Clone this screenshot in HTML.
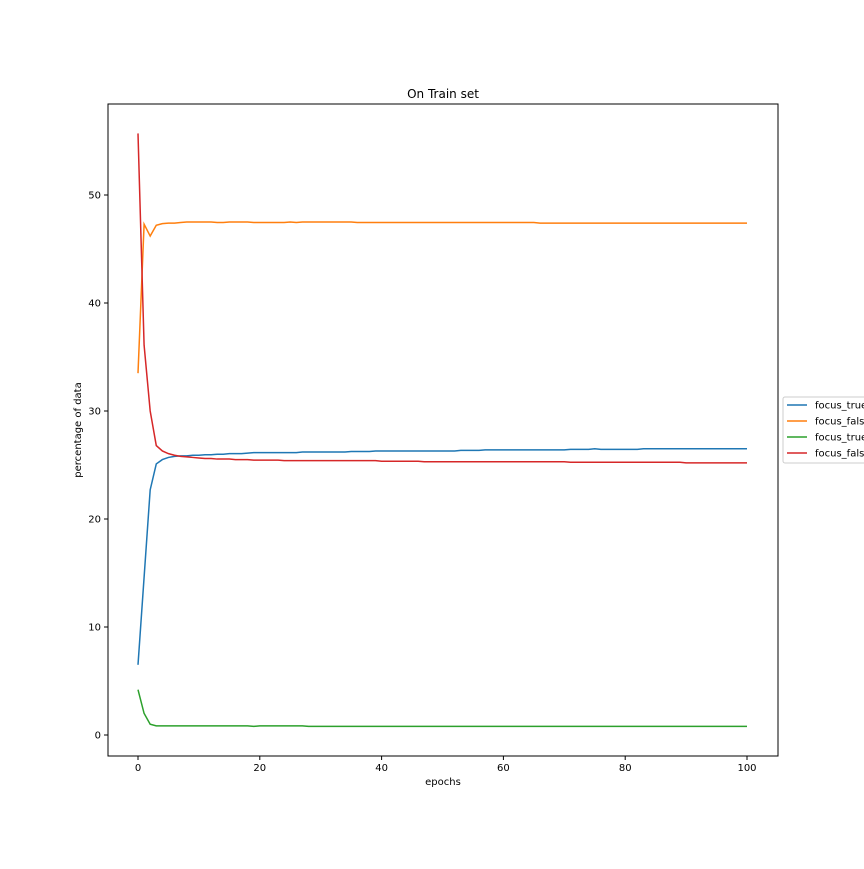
<!DOCTYPE html>
<html><head><meta charset="utf-8"><style>
body{margin:0;background:#fff;font-family:"Liberation Sans","DejaVu Sans",sans-serif;}
svg text{font-family:"DejaVu Sans","Liberation Sans",sans-serif;font-size:10px;fill:#000;}
</style></head><body>
<svg id="chart" width="864" height="864">
<rect width="864" height="864" fill="#fff"/>
<text x="443" y="98" text-anchor="middle" style="font-size:12px">On Train set</text>
<g id="plot"></g>
<rect x="108" y="104" width="670" height="652" fill="none" stroke="#000" stroke-width="1"/>
<text x="443" y="785" text-anchor="middle">epochs</text>
<text transform="translate(81,430) rotate(-90)" text-anchor="middle">percentage of data</text>
<g>
<rect x="783" y="397" width="100" height="66" rx="2" fill="#fff" stroke="#ccc"/>
<g id="legend"></g>
</g>
</svg>
<script>
const xTicks=[0,20,40,60,80,100];
const yTicks=[0,10,20,30,40,50];
const seriesNames=["focus_true_pred_true","focus_false_pred_true","focus_true_pred_false","focus_false_pred_false"];
const colors=["#1f77b4","#ff7f0e","#2ca02c","#d62728"];
const blue=[6.5,14.6,22.7,25.1,25.5,25.7,25.8,25.85,25.85,25.9,25.9,25.95,25.95,26,26,26.05,26.05,26.05,26.1,26.15,26.15,26.15,26.15,26.15,26.15,26.15,26.15,26.2,26.2,26.2,26.2,26.2,26.2,26.2,26.2,26.25,26.25,26.25,26.25,26.3,26.3,26.3,26.3,26.3,26.3,26.3,26.3,26.3,26.3,26.3,26.3,26.3,26.3,26.35,26.35,26.35,26.35,26.4,26.4,26.4,26.4,26.4,26.4,26.4,26.4,26.4,26.4,26.4,26.4,26.4,26.4,26.45,26.45,26.45,26.45,26.5,26.45,26.45,26.45,26.45,26.45,26.45,26.45,26.5,26.5,26.5,26.5,26.5,26.5,26.5,26.5,26.5,26.5,26.5,26.5,26.5,26.5,26.5,26.5,26.5,26.5];
const orange=[33.5,47.3,46.2,47.2,47.35,47.4,47.4,47.45,47.5,47.5,47.5,47.5,47.5,47.45,47.45,47.5,47.5,47.5,47.5,47.45,47.45,47.45,47.45,47.45,47.45,47.5,47.45,47.5,47.5,47.5,47.5,47.5,47.5,47.5,47.5,47.5,47.45,47.45,47.45,47.45,47.45,47.45,47.45,47.45,47.45,47.45,47.45,47.45,47.45,47.45,47.45,47.45,47.45,47.45,47.45,47.45,47.45,47.45,47.45,47.45,47.45,47.45,47.45,47.45,47.45,47.45,47.4,47.4,47.4,47.4,47.4,47.4,47.4,47.4,47.4,47.4,47.4,47.4,47.4,47.4,47.4,47.4,47.4,47.4,47.4,47.4,47.4,47.4,47.4,47.4,47.4,47.4,47.4,47.4,47.4,47.4,47.4,47.4,47.4,47.4,47.4];
const green=[4.2,2.0,1.0,0.85,0.85,0.85,0.85,0.85,0.85,0.85,0.85,0.85,0.85,0.85,0.85,0.85,0.85,0.85,0.85,0.8,0.85,0.85,0.85,0.85,0.85,0.85,0.85,0.85,0.8,0.8,0.8,0.8,0.8,0.8,0.8,0.8,0.8,0.8,0.8,0.8,0.8,0.8,0.8,0.8,0.8,0.8,0.8,0.8,0.8,0.8,0.8,0.8,0.8,0.8,0.8,0.8,0.8,0.8,0.8,0.8,0.8,0.8,0.8,0.8,0.8,0.8,0.8,0.8,0.8,0.8,0.8,0.8,0.8,0.8,0.8,0.8,0.8,0.8,0.8,0.8,0.8,0.8,0.8,0.8,0.8,0.8,0.8,0.8,0.8,0.8,0.8,0.8,0.8,0.8,0.8,0.8,0.8,0.8,0.8,0.8,0.8];
const red=[55.7,36.1,30.0,26.8,26.3,26.05,25.9,25.8,25.75,25.7,25.65,25.6,25.6,25.55,25.55,25.55,25.5,25.5,25.5,25.45,25.45,25.45,25.45,25.45,25.4,25.4,25.4,25.4,25.4,25.4,25.4,25.4,25.4,25.4,25.4,25.4,25.4,25.4,25.4,25.4,25.35,25.35,25.35,25.35,25.35,25.35,25.35,25.3,25.3,25.3,25.3,25.3,25.3,25.3,25.3,25.3,25.3,25.3,25.3,25.3,25.3,25.3,25.3,25.3,25.3,25.3,25.3,25.3,25.3,25.3,25.3,25.25,25.25,25.25,25.25,25.25,25.25,25.25,25.25,25.25,25.25,25.25,25.25,25.25,25.25,25.25,25.25,25.25,25.25,25.25,25.2,25.2,25.2,25.2,25.2,25.2,25.2,25.2,25.2,25.2,25.2];
const series=[blue,orange,green,red];
const NS="http://www.w3.org/2000/svg";
function xs(v){return 138+v*(747-138)/100;}
function ys(v){return 735-v*(735-195)/50;}
const plot=document.getElementById('plot');
xTicks.forEach(t=>{
 const l=document.createElementNS(NS,'line');
 l.setAttribute('x1',xs(t));l.setAttribute('x2',xs(t));l.setAttribute('y1',756);l.setAttribute('y2',760);l.setAttribute('stroke','#000');
 
 
 plot.appendChild(l);
 const tx=document.createElementNS(NS,'text');
 tx.setAttribute('x',xs(t));tx.setAttribute('y',771);tx.setAttribute('text-anchor','middle');tx.textContent=t;
 
 
 plot.appendChild(tx);
});
yTicks.forEach(t=>{
 const l=document.createElementNS(NS,'line');
 l.setAttribute('x1',104);l.setAttribute('x2',108);l.setAttribute('y1',ys(t));l.setAttribute('y2',ys(t));l.setAttribute('stroke','#000');
 
 
 plot.appendChild(l);
 const tx=document.createElementNS(NS,'text');
 tx.setAttribute('x',101);tx.setAttribute('y',ys(t)+3.5);tx.setAttribute('text-anchor','end');tx.textContent=t;
 
 
 plot.appendChild(tx);
});
series.forEach((s,i)=>{
 const p=document.createElementNS(NS,'polyline');
 p.setAttribute('points',s.map((v,j)=>xs(j)+','+ys(v)).join(' '));
 p.setAttribute('fill','none');p.setAttribute('stroke',colors[i]);p.setAttribute('stroke-width','1.5');
 
 
 plot.appendChild(p);
});
const lg=document.getElementById('legend');
seriesNames.forEach((n,i)=>{
 const y=405+i*16;
 const l=document.createElementNS(NS,'line');
 l.setAttribute('x1',787);l.setAttribute('x2',807);l.setAttribute('y1',y);l.setAttribute('y2',y);l.setAttribute('stroke',colors[i]);l.setAttribute('stroke-width','1.5');
 
 
 lg.appendChild(l);
 const t=document.createElementNS(NS,'text');
 t.setAttribute('x',815);t.setAttribute('y',y+3.5);t.textContent=n;
 
 
 lg.appendChild(t);
});
</script>
</body></html>
